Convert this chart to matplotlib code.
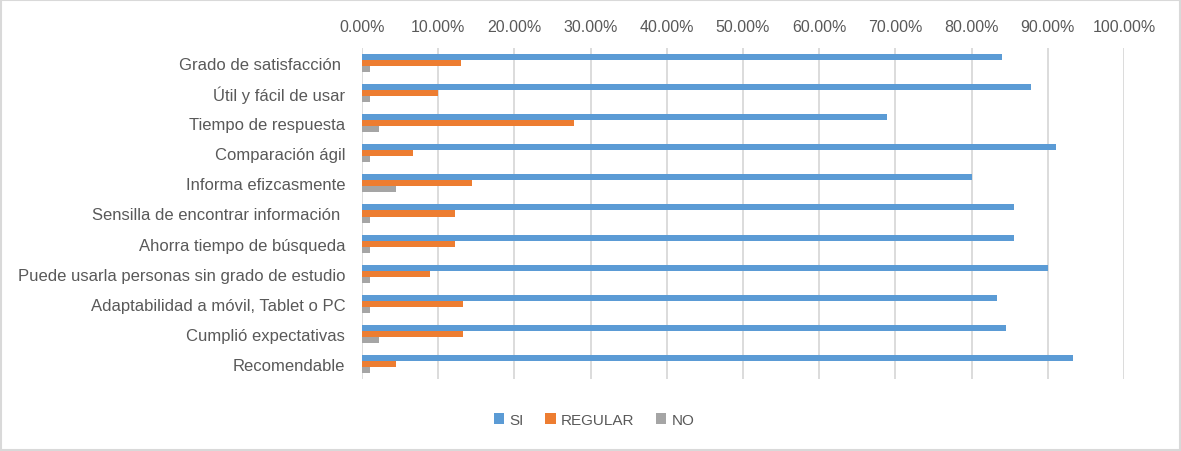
import matplotlib
matplotlib.use("Agg")
import matplotlib.pyplot as plt
from matplotlib.ticker import FuncFormatter, MultipleLocator
from matplotlib.patches import Rectangle
import numpy as np

categories = [
    "Grado de satisfacción ",
    "Útil y fácil de usar",
    "Tiempo de respuesta",
    "Comparación ágil",
    "Informa efizcasmente",
    "Sensilla de encontrar información ",
    "Ahorra tiempo de búsqueda",
    "Puede usarla personas sin grado de estudio",
    "Adaptabilidad a móvil, Tablet o PC",
    "Cumplió expectativas",
    "Recomendable",
]
si = [0.840, 0.878, 0.689, 0.911, 0.800, 0.856, 0.856, 0.900, 0.833, 0.845, 0.933]
regular = [0.130, 0.100, 0.278, 0.067, 0.144, 0.122, 0.122, 0.089, 0.133, 0.133, 0.044]
no = [0.011, 0.011, 0.022, 0.011, 0.044, 0.011, 0.011, 0.011, 0.011, 0.022, 0.011]
series_names = ["SI", "REGULAR", "NO"]
colors = ["#5B9BD5", "#ED7D31", "#A5A5A5"]

plt.rcParams['font.family'] = ['Liberation Sans', 'DejaVu Sans']
text_color = "#595959"

fig = plt.figure(figsize=(11.81, 4.52), dpi=100)
ax = fig.add_axes([362/1181, 1-380/452, 762/1181, 331/452])

y = np.arange(len(categories))
h = 0.2
for i, (vals, c, name) in enumerate(zip([si, regular, no], colors, series_names)):
    ax.barh(y + (i - 1) * h, vals, height=h, color=c, label=name, zorder=3)

ax.set_xlim(0, 1.0)
ax.set_ylim(len(categories) - 0.5, -0.5)
ax.xaxis.set_major_locator(MultipleLocator(0.1))
ax.xaxis.set_major_formatter(FuncFormatter(lambda v, p: f"{v*100:.2f}%"))
ax.xaxis.tick_top()
ax.set_yticks(y)
ax.set_yticklabels(categories)
ax.tick_params(axis='both', length=0, colors=text_color)
ax.tick_params(axis='x', pad=10, labelsize=11.5)
ax.tick_params(axis='y', pad=12, labelsize=12)
ax.grid(axis='x', color="#D9D9D9", linewidth=1.3, zorder=0)
for s in ax.spines.values():
    s.set_visible(False)

leg = fig.legend(loc='center', bbox_to_anchor=(0.503, 1-421/452), ncol=3, frameon=False,
                 fontsize=11, handlelength=0.68, handleheight=0.68, columnspacing=1.4,
                 handletextpad=0.35)
for t in leg.get_texts():
    t.set_color(text_color)

fig.patches.append(Rectangle((0.001, 0.002), 0.998, 0.996, transform=fig.transFigure,
                             fill=False, edgecolor="#D9D9D9", linewidth=1.5))
fig.savefig("out.png", dpi=100)
